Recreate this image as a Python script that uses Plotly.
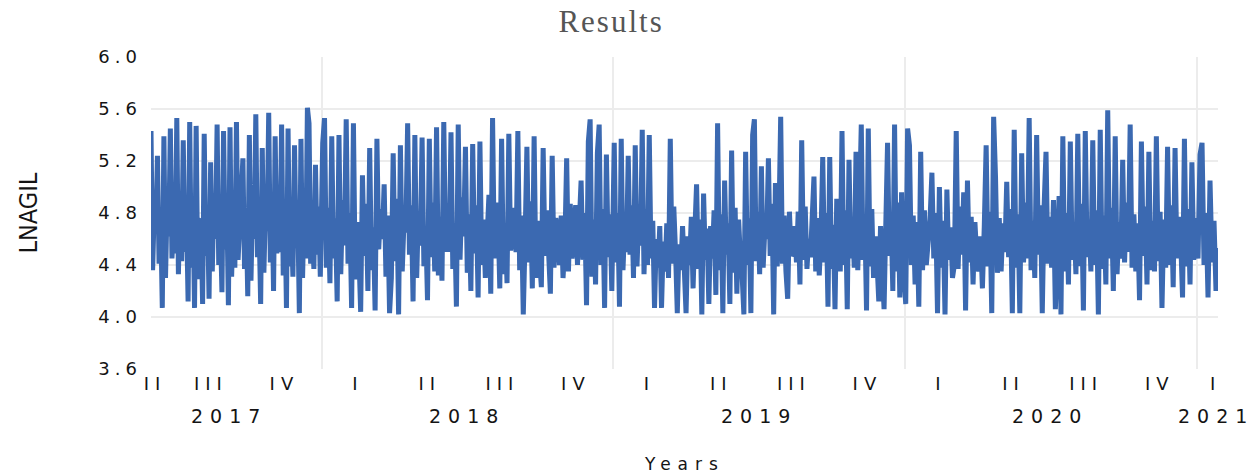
import pandas as pd
import plotly.graph_objects as go

# ---- data ----
v2017 = [5.43, 4.36, 4.82, 4.68, 5.24, 4.41, 4.77, 4.07, 5.39, 4.30, 4.88, 4.62, 5.45, 4.45, 4.70, 4.49, 5.53, 4.33, 4.91, 4.43,
         5.36, 4.50, 4.79, 4.12, 5.50, 4.38, 4.86, 4.07, 5.47, 4.29, 4.74, 4.75, 4.10, 5.41, 4.47, 4.83, 4.14, 5.19, 4.35, 4.92,
         4.60, 5.48, 4.40, 4.69, 4.19, 5.43, 4.52, 4.88, 4.09, 5.46, 4.31, 4.78, 4.38, 5.50, 4.44, 4.66, 4.85, 5.22, 4.37, 4.81,
         4.16, 5.40, 4.28, 4.90, 4.60, 5.56, 4.46, 4.73, 4.10, 5.30, 4.34, 4.84, 4.66, 5.57, 4.42, 4.93, 4.20, 5.39, 4.49, 4.71,
         4.50, 5.48, 4.32, 4.87, 4.07, 5.45, 4.39, 4.76, 4.31, 5.32, 4.53, 4.80, 4.03, 5.37, 4.30, 4.89, 4.45, 5.61, 5.49, 4.41, 4.72,
         4.37, 5.17, 4.48, 4.85, 4.31]
v2018 = [5.34, 5.53, 4.38, 4.84, 4.26, 5.39, 4.45, 4.76, 4.12, 5.40, 4.33, 4.90, 4.55, 5.52, 4.41, 4.80, 4.07, 5.49, 4.29, 4.73,
         4.50, 4.04, 5.09, 4.47, 4.87, 4.20, 5.30, 4.36, 4.69, 4.05, 5.37, 4.52, 4.83, 4.60, 5.02, 4.31, 4.78, 4.03,
         4.30, 5.26, 4.43, 4.91, 4.02, 5.32, 4.35, 4.74, 4.65, 5.49, 4.48, 4.86, 4.12, 5.40, 4.30, 4.81, 4.55, 5.38, 4.39, 4.70,
         4.13, 5.37, 4.46, 4.88, 4.35, 5.46, 4.32, 4.77, 4.28, 5.50, 4.50, 4.85, 4.50, 5.42, 4.37, 4.72, 4.08, 5.48, 4.44, 4.92,
         4.62, 5.31, 4.34, 4.79, 4.20, 5.33, 4.49, 4.86, 4.15, 5.35, 4.40, 4.75, 4.30, 4.62, 4.94, 4.18,
         5.53, 4.45, 4.88, 4.80, 4.22, 5.37, 4.33, 4.71, 4.26, 5.41, 4.51, 4.84, 4.70, 4.50,
         5.43, 4.36, 4.78, 4.02, 4.60, 5.31, 4.42, 4.89, 4.22, 5.39, 4.30, 4.74, 4.45, 4.23, 5.30, 4.47, 4.82, 4.50,
         4.18, 5.24, 4.38, 4.76, 4.66, 4.40, 4.78, 4.30, 4.55, 5.22, 4.35, 4.87, 4.45, 4.70,
         4.86, 4.40, 4.72, 5.05, 4.44, 4.80, 4.09, 5.35, 5.52, 4.31, 4.75, 4.25, 5.26, 5.48, 4.40, 4.83,
         4.07, 5.25, 4.46, 4.79, 4.20]
v2019 = [5.34, 4.42, 4.80, 4.08, 5.37, 4.36, 4.72, 4.50, 5.24, 4.48, 4.86, 4.30, 5.32, 4.39, 4.77, 4.55, 5.44, 4.33, 4.83, 4.40,
         5.40, 4.45, 4.74, 4.07, 4.60, 4.38, 4.70, 4.07, 4.58, 4.35, 4.72, 4.30, 5.37, 4.41, 4.85, 4.50, 4.03, 4.56, 4.36, 4.70, 4.35,
         4.03, 4.62, 4.40, 4.77, 4.22, 4.66, 5.02, 4.37, 4.75, 4.02, 4.95, 4.44, 4.68, 4.10, 4.70, 4.45, 4.82,
         4.17, 5.49, 4.36, 4.79, 4.03, 5.05, 4.48, 4.72, 4.10, 5.28, 4.34, 4.84, 4.18, 4.75, 4.46, 4.32, 4.02,
         5.27, 4.40, 4.76, 4.03, 5.40, 5.52, 4.43, 4.81, 4.33, 5.16, 4.38, 4.69, 4.60, 5.22, 4.47, 4.87, 4.02, 5.03, 4.39, 4.73,
         5.54, 4.41, 4.78, 4.35, 4.14, 4.81, 4.47, 4.50, 4.70, 4.42, 4.81, 4.25, 5.36, 4.44, 4.85, 4.37,
         4.60, 4.46, 4.70, 5.08, 4.35, 4.76, 4.32, 4.62, 5.23, 4.42, 4.80, 4.08, 5.23, 4.37, 4.71, 4.06, 4.91, 4.48,
         4.35, 5.43, 4.40, 4.82, 4.06, 5.21, 4.45, 4.74, 4.38, 5.27, 4.36, 4.86,
         5.48, 4.44, 4.77, 4.05, 5.45, 4.39, 4.83, 4.30, 4.62, 4.41, 4.12, 4.70, 4.43, 4.06, 4.72, 5.34, 4.47, 4.79,
         4.20, 5.48, 4.35, 4.88, 4.15, 4.96, 4.40]
v2020 = [4.10, 5.45, 5.32, 4.40, 4.78, 4.25, 4.73, 4.08, 5.27, 4.36, 4.82, 4.40, 4.55, 4.75,
         5.11, 4.45, 4.80, 4.03, 5.00, 4.38, 4.74, 4.02, 4.98, 4.44, 4.69, 4.30, 4.40, 5.43, 4.37, 4.85, 4.48, 4.96,
         4.05, 5.05, 4.42, 4.77, 4.25, 4.73, 4.45, 4.35, 4.62, 4.22, 4.70, 5.32, 4.39, 4.81,
         4.03, 5.54, 5.08, 4.34, 4.76, 4.35, 4.72, 4.50, 5.04, 4.46, 4.83, 4.03, 5.44, 4.38, 4.79, 4.03, 5.26, 4.42, 4.88, 4.45,
         5.53, 4.36, 4.74, 4.30, 5.40, 4.48, 4.86, 4.03, 4.86, 5.27, 4.41, 4.77, 4.38, 4.90, 4.06, 4.60,
         4.93, 4.02, 5.39, 4.35, 4.80, 4.25, 5.35, 4.44, 4.72, 4.33, 5.41, 4.39, 4.87, 4.05, 5.43, 4.46, 4.75, 4.35,
         5.36, 4.40, 4.82, 4.02, 5.44, 4.37, 4.78, 4.25, 5.59, 4.45, 4.84, 4.20, 5.39, 4.33, 4.73, 4.45, 5.21, 4.42, 4.88, 4.50,
         5.48, 4.38, 4.79, 4.35, 4.72, 4.13, 5.35, 4.47, 4.85, 4.25, 5.27, 4.36, 4.74, 4.35, 5.39, 4.43, 4.81, 4.07,
         4.75, 4.38, 5.31, 4.40, 4.86, 4.23, 5.30, 4.45, 4.77, 4.60, 4.15, 5.37, 4.39, 4.83, 4.25, 5.19, 4.44, 4.76]
v2021 = [4.45, 5.25, 5.34, 4.40, 4.80, 4.15, 5.05, 4.42, 4.74, 4.20, 4.53]

# date span covered by each yearly block of observations
segment_starts = ["2017-06-01", "2018-01-02", "2019-01-02", "2020-01-02", "2021-01-02"]
segment_ends = ["2017-12-30", "2018-12-30", "2019-12-30", "2020-12-30", "2021-01-27"]
x_start = "2017-06-01"
x_end = "2021-01-27"

quarter_tick_dates = ["2017-06-06", "2017-08-15", "2017-11-15",
                      "2018-02-15", "2018-05-16", "2018-08-15", "2018-11-15",
                      "2019-02-15", "2019-05-16", "2019-08-15", "2019-11-15",
                      "2020-02-15", "2020-05-16", "2020-08-15", "2020-11-15",
                      "2021-01-24"]
quarter_tick_labels = ["II", "III", "IV",
                       "I", "II", "III", "IV",
                       "I", "II", "III", "IV",
                       "I", "II", "III", "IV",
                       "I"]
year_label_dates = ["2017-09-07", "2018-07-02", "2019-07-02", "2020-07-01", "2021-01-24"]
year_labels = ["2017", "2018", "2019", "2020", "2021"]
y_tick_vals = [3.6, 4.0, 4.4, 4.8, 5.2, 5.6, 6.0]
y_tick_labels = ["3.6", "4.0", "4.4", "4.8", "5.2", "5.6", "6.0"]
y_grid_vals = [4.0, 4.4, 4.8, 5.2, 5.6]

# ---- figure ----
blocks = [v2017, v2018, v2019, v2020, v2021]
dates, values = [], []
for blk, s, e in zip(blocks, segment_starts, segment_ends):
    dates.extend(pd.date_range(s, e, periods=len(blk)))
    values.extend(blk)


def spaced(text, px):
    return f"<span style='letter-spacing:{px}px'>{text}</span>"


FONT = "DejaVu Sans, Verdana, sans-serif"
LINE = "rgb(59,105,177)"
GRID = "rgb(236,236,236)"

fig = go.Figure()
fig.add_trace(go.Scatter(
    x=dates, y=values, mode="lines",
    line=dict(color=LINE, width=5),
    hoverinfo="x+y", showlegend=False,
))

fig.update_layout(
    width=1260, height=475,
    margin=dict(l=151, r=42, t=57, b=106),
    paper_bgcolor="white", plot_bgcolor="white",
    title=dict(text=spaced("Results", 2), x=0.485, xref="container",
               y=0.956, yanchor="middle", xanchor="center",
               font=dict(family="Liberation Serif, Times New Roman, serif",
                         size=31, color="rgb(85,85,85)")),
    xaxis=dict(
        type="date", range=[x_start, x_end],
        tickmode="array", tickvals=quarter_tick_dates,
        ticktext=[spaced(t, 6) for t in quarter_tick_labels],
        ticks="", showgrid=False, zeroline=False, showline=False,
        ticklabelstandoff=2,
        tickfont=dict(family=FONT, size=18, color="rgb(20,20,20)"),
        minor=dict(tick0="2017-01-01", dtick="M12", showgrid=True,
                   gridcolor=GRID, gridwidth=1.5, ticks=""),
    ),
    yaxis=dict(
        range=[3.6, 6.0], tickmode="array", tickvals=y_tick_vals,
        ticktext=[spaced(t, 5) for t in y_tick_labels],
        ticks="", showgrid=False, zeroline=False, showline=False,
        ticklabelstandoff=8,
        tickfont=dict(family=FONT, size=18, color="rgb(20,20,20)"),
        minor=dict(tickmode="array", tickvals=y_grid_vals, showgrid=True,
                   gridcolor=GRID, gridwidth=1.5, ticks=""),
    ),
)

for d, lab in zip(year_label_dates, year_labels):
    fig.add_annotation(x=d, xref="x", y=-0.151, yref="paper",
                       text=spaced(lab, 7), showarrow=False,
                       xanchor="center", yanchor="middle",
                       font=dict(family=FONT, size=19, color="rgb(20,20,20)"))

fig.add_annotation(x=0.5, xref="paper", y=-0.305, yref="paper",
                   text=spaced("Years", 7), showarrow=False,
                   xanchor="center", yanchor="middle",
                   font=dict(family=FONT, size=17, color="rgb(20,20,20)"))

fig.add_annotation(x=-0.1157, xref="paper", y=0.5, yref="paper",
                   text="LNAGIL", textangle=-90, showarrow=False,
                   xanchor="center", yanchor="middle",
                   font=dict(family="Liberation Sans Narrow, DejaVu Sans Condensed, Liberation Sans, sans-serif",
                             size=25, color="rgb(20,20,20)"))

fig.write_html("out.html",
               config={"displayModeBar": False},
               post_script="document.body.style.margin='0px';"
                           "document.body.style.overflow='hidden';")
